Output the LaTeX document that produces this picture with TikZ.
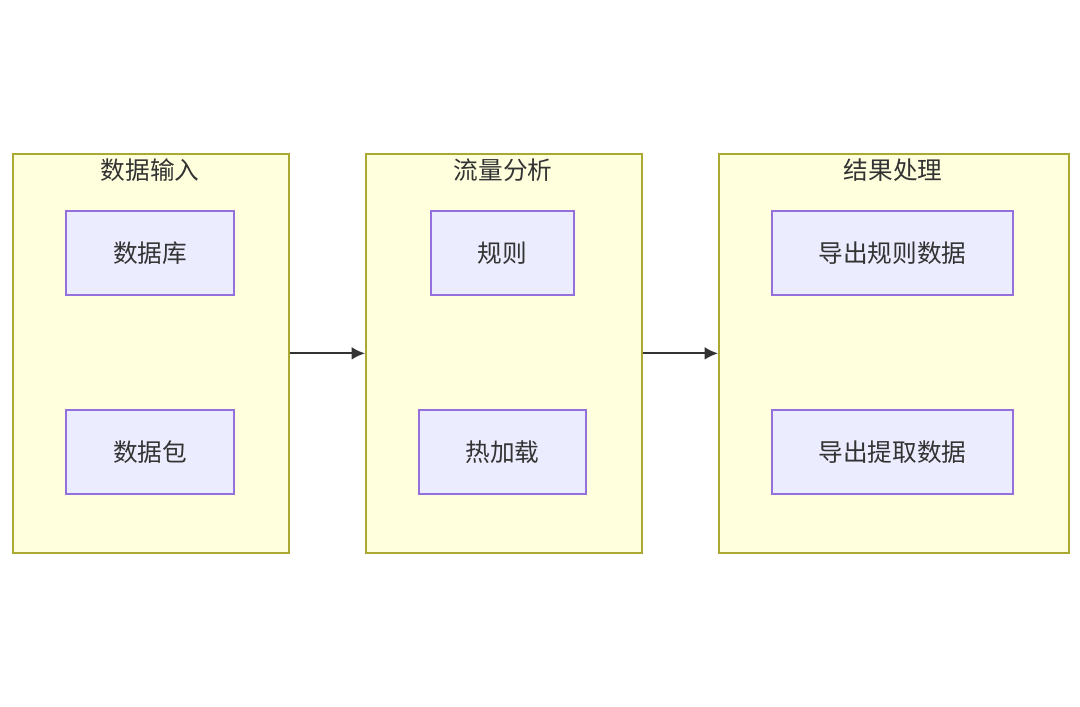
\documentclass[tikz,border=0pt]{standalone}
\usepackage{fontspec}
\setmainfont{Noto Sans CJK SC}
\usetikzlibrary{arrows.meta}
\definecolor{grpfill}{HTML}{FFFFDE}
\definecolor{grpline}{HTML}{AAAA33}
\definecolor{boxfill}{HTML}{ECECFF}
\definecolor{boxline}{HTML}{9370DB}
\definecolor{ink}{HTML}{333333}
\tikzset{
  grp/.style={draw=grpline, fill=grpfill, line width=1.3pt, anchor=north west, inner sep=0pt},
  box/.style={draw=boxline, fill=boxfill, line width=1.3pt, minimum height=63pt, text=ink, font=\fontsize{18.5}{22}\selectfont, inner sep=0pt},
  ttl/.style={text=ink, font=\fontsize{18.5}{22}\selectfont, anchor=center},
  flow/.style={draw=ink, line width=1.4pt, -{Latex[length=10pt,width=9.5pt]}}
}
\begin{document}
\begin{tikzpicture}[x=0.75pt, y=-0.75pt]
    \useasboundingbox[fill=white] (0,0) rectangle (1080,706);
    % groups
    \node[grp, minimum width=207pt, minimum height=299.25pt] (input) at (12,153) {};
    \node[grp, minimum width=207pt, minimum height=299.25pt] (analysis) at (365,153) {};
    \node[grp, minimum width=262.5pt, minimum height=299.25pt] (result) at (718,153) {};
    \node[ttl] (inputT) at (150,170) {数据输入};
    \node[ttl] (analysisT) at (503,170) {流量分析};
    \node[ttl] (resultT) at (893,170) {结果处理};
    % inner boxes
    \node[box, minimum width=126pt] (db) at (150,253) {数据库};
    \node[box, minimum width=126pt] (pkt) at (150,452) {数据包};
    \node[box, minimum width=107pt] (rules) at (502.5,253) {规则};
    \node[box, minimum width=125pt] (reload) at (502.5,452) {热加载};
    \node[box, minimum width=181pt] (expR) at (892.5,253) {导出规则数据};
    \node[box, minimum width=181pt] (expE) at (892.5,452) {导出提取数据};
    % flows
    \draw[flow] (input.east) -- (analysis.west);
    \draw[flow] (analysis.east) -- (result.west);
\end{tikzpicture}
\end{document}
